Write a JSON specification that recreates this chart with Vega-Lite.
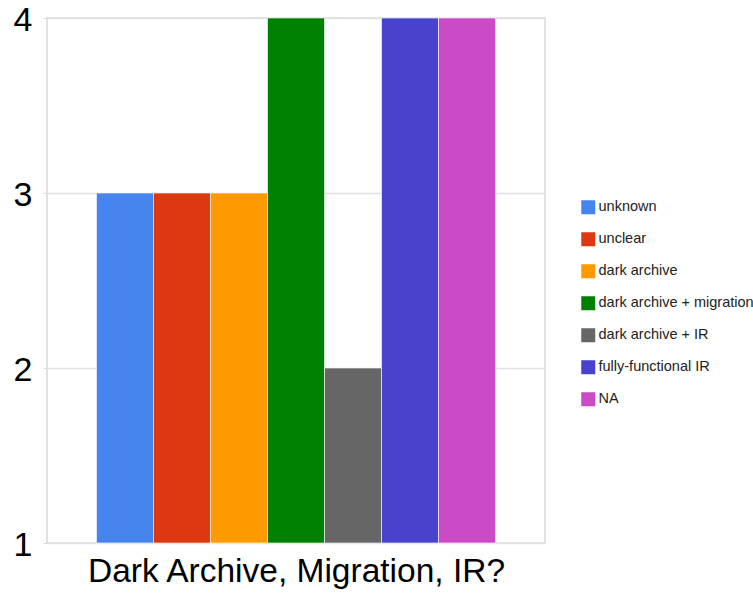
{
  "$schema": "https://vega.github.io/schema/vega-lite/v6.json",
  "width": 498,
  "height": 525,
  "autosize": {"type": "none"},
  "padding": {"left": 47, "top": 18, "right": 208, "bottom": 53},
  "background": "white",
  "config": {
    "font": "Liberation Sans",
    "view": {"stroke": "#d9d9d9", "strokeWidth": 1.5}
  },
  "data": {
    "values": [
      {"question": "Dark Archive, Migration, IR?", "answer": "unknown", "count": 3},
      {"question": "Dark Archive, Migration, IR?", "answer": "unclear", "count": 3},
      {"question": "Dark Archive, Migration, IR?", "answer": "dark archive", "count": 3},
      {"question": "Dark Archive, Migration, IR?", "answer": "dark archive + migration", "count": 4},
      {"question": "Dark Archive, Migration, IR?", "answer": "dark archive + IR", "count": 2},
      {"question": "Dark Archive, Migration, IR?", "answer": "fully-functional IR", "count": 4},
      {"question": "Dark Archive, Migration, IR?", "answer": "NA", "count": 4}
    ]
  },
  "mark": {"type": "bar", "stroke": "white", "strokeWidth": 1, "strokeOpacity": 0.6},
  "encoding": {
    "x": {
      "field": "question",
      "type": "nominal",
      "scale": {"paddingInner": 0, "paddingOuter": 0.124},
      "axis": {
        "title": "Dark Archive, Migration, IR?",
        "labels": false,
        "ticks": false,
        "domain": false,
        "titleFontSize": 33.5,
        "titleFontWeight": "normal",
        "titleColor": "black",
        "titlePadding": 12
      }
    },
    "xOffset": {
      "field": "answer",
      "type": "nominal",
      "sort": ["unknown", "unclear", "dark archive", "dark archive + migration", "dark archive + IR", "fully-functional IR", "NA"],
      "scale": {"paddingInner": 0, "paddingOuter": 0}
    },
    "y": {
      "field": "count",
      "type": "quantitative",
      "scale": {"domain": [1, 4], "zero": false, "nice": false},
      "axis": {
        "title": null,
        "values": [1, 2, 3, 4],
        "format": "d",
        "labelFontSize": 34,
        "labelColor": "black",
        "labelPadding": 11,
        "labelOffset": 2,
        "tickSize": 4,
        "tickColor": "#d9d9d9",
        "gridColor": "#e3e3e3",
        "gridWidth": 1.5,
        "domain": false
      }
    },
    "y2": {"datum": 1},
    "color": {
      "field": "answer",
      "type": "nominal",
      "scale": {
        "domain": ["unknown", "unclear", "dark archive", "dark archive + migration", "dark archive + IR", "fully-functional IR", "NA"],
        "range": ["#4684ee", "#dc3912", "#ff9900", "#008000", "#666666", "#4942cc", "#cb4ac5"]
      },
      "legend": {
        "title": null,
        "orient": "none",
        "legendX": 534,
        "legendY": 182,
        "symbolType": "square",
        "symbolSize": 196,
        "symbolStrokeWidth": 0,
        "symbolOpacity": 1,
        "labelFontSize": 14.5,
        "labelColor": "#222222",
        "labelOffset": 3,
        "rowPadding": 16
      }
    }
  }
}
